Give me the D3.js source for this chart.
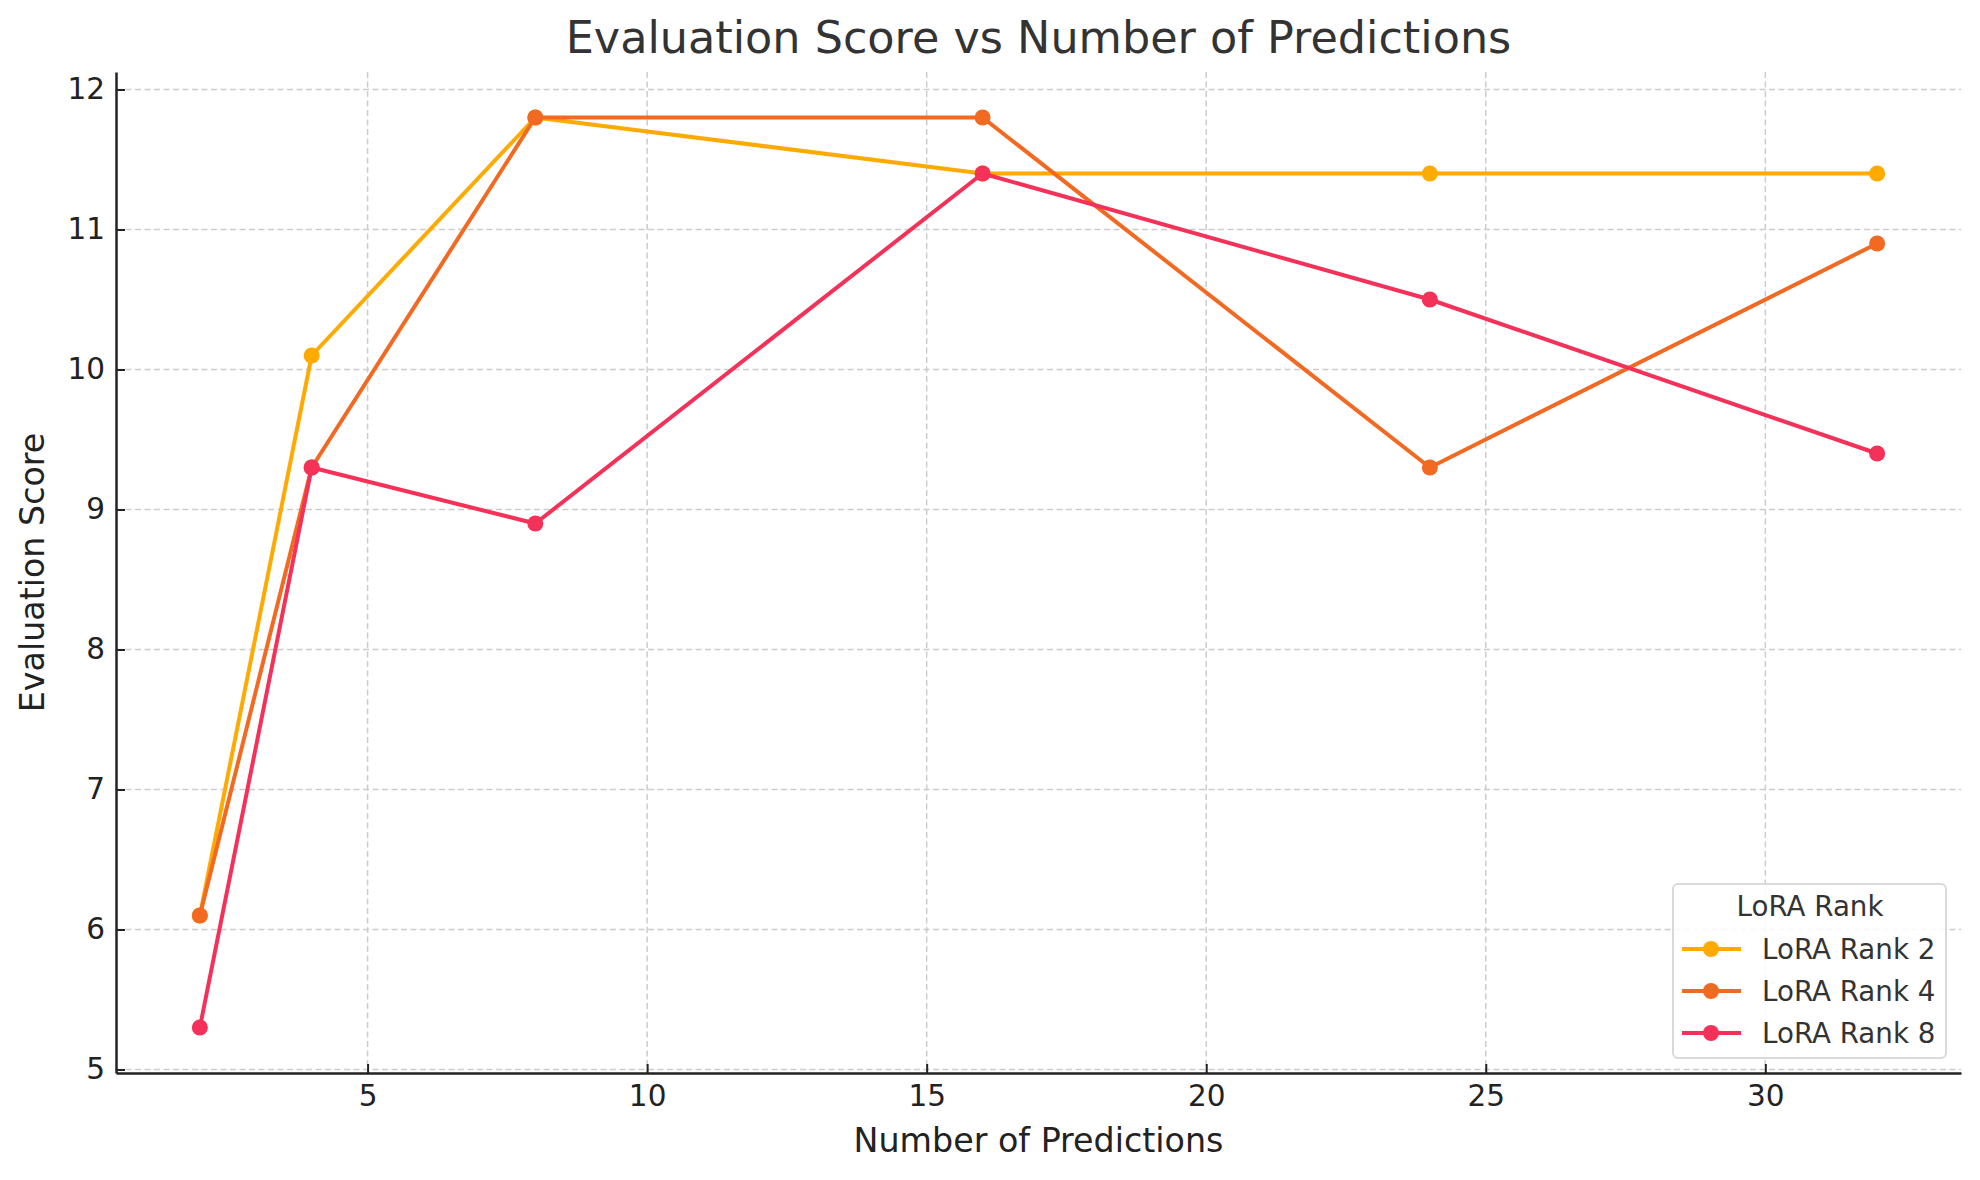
<!DOCTYPE html>
<html>
<head>
<meta charset="utf-8">
<script src="https://cdn.jsdelivr.net/npm/d3@7"></script>
<style>
  html, body { margin: 0; padding: 0; background: #fff; }
  svg { display: block; font-family: "DejaVu Sans", sans-serif; }
</style>
</head>
<body>
<svg id="chart" width="1980" height="1180"></svg>
<script>
const xValues = [2, 4, 8, 16, 24, 32];
const rank2 = [6.1, 10.1, 11.8, 11.4, 11.4, 11.4];
const rank4 = [6.1, 9.3, 11.8, 11.8, 9.3, 10.9];
const rank8 = [5.3, 9.3, 8.9, 11.4, 10.5, 9.4];
const seriesNames = ["LoRA Rank 2", "LoRA Rank 4", "LoRA Rank 8"];
const seriesColors = ["#FFAA00", "#F26A21", "#F43159"];
const xTicks = [5, 10, 15, 20, 25, 30];
const yTicks = [5, 6, 7, 8, 9, 10, 11, 12];

const series = [rank2, rank4, rank8].map((vals, i) => ({
  name: seriesNames[i], color: seriesColors[i],
  points: vals.map((v, j) => ({ x: xValues[j], y: v }))
}));

const svg = d3.select("#chart");
const L = 116, R = 1961, T = 72, B = 1073;

const x = d3.scaleLinear().domain([0.5, 33.5]).range([L, R]);
const y = d3.scaleLinear().domain([4.975, 12.125]).range([B, T]);

// grid
const grid = svg.append("g");
grid.selectAll(".gx").data(xTicks).join("line")
  .attr("x1", d => x(d)).attr("x2", d => x(d)).attr("y1", T).attr("y2", B)
  .attr("stroke", "#cccccc").attr("stroke-width", 1.5).attr("stroke-dasharray", "6,3.5");
grid.selectAll(".gy").data(yTicks).join("line")
  .attr("y1", d => y(d)).attr("y2", d => y(d)).attr("x1", L).attr("x2", R)
  .attr("stroke", "#cccccc").attr("stroke-width", 1.5).attr("stroke-dasharray", "6,3.5");

// axes
const xAxis = svg.append("g").attr("transform", `translate(0,${B})`)
  .call(d3.axisBottom(x).tickValues(xTicks).tickSizeInner(-9).tickSizeOuter(0).tickPadding(14));
const yAxis = svg.append("g").attr("transform", `translate(${L},0)`)
  .call(d3.axisLeft(y).tickValues(yTicks).tickSizeInner(-9).tickSizeOuter(0).tickPadding(12));
[xAxis, yAxis].forEach(a => {
  a.select(".domain").attr("stroke", "#222").attr("stroke-width", 2.5);
  a.selectAll(".tick line").attr("stroke", "#222").attr("stroke-width", 2);
  a.selectAll(".tick text").attr("fill", "#222").attr("font-size", 29.5)
    .attr("font-family", "DejaVu Sans");
});
xAxis.selectAll(".tick text").attr("dy", "0.71em").attr("y", 12);
yAxis.selectAll(".tick text").attr("x", -11);

// lines
const line = d3.line().x(d => x(d.x)).y(d => y(d.y));
const sg = svg.append("g");
series.forEach(s => {
  sg.append("path").datum(s.points).attr("d", line)
    .attr("fill", "none").attr("stroke", s.color).attr("stroke-width", 4)
    .attr("stroke-linejoin", "round").attr("stroke-linecap", "round");
  sg.selectAll(null).data(s.points).join("circle")
    .attr("cx", d => x(d.x)).attr("cy", d => y(d.y)).attr("r", 8)
    .attr("fill", s.color);
});

// title and labels
svg.append("text").attr("x", (L + R) / 2).attr("y", 53)
  .attr("text-anchor", "middle").attr("font-size", 44.5).attr("fill", "#333")
  .text("Evaluation Score vs Number of Predictions");
svg.append("text").attr("x", (L + R) / 2).attr("y", 1152)
  .attr("text-anchor", "middle").attr("font-size", 33.3).attr("fill", "#222")
  .text("Number of Predictions");
svg.append("text").attr("transform", `translate(44,${(T + B) / 2}) rotate(-90)`)
  .attr("text-anchor", "middle").attr("font-size", 33.3).attr("fill", "#222")
  .text("Evaluation Score");

// legend
const lg = svg.append("g");
lg.append("rect").attr("x", 1673).attr("y", 884).attr("width", 273).attr("height", 174)
  .attr("rx", 5).attr("fill", "#fff").attr("fill-opacity", 0.85)
  .attr("stroke", "#d9d9d9").attr("stroke-width", 2);
lg.append("text").attr("x", 1810).attr("y", 916).attr("text-anchor", "middle")
  .attr("font-size", 27.7).attr("fill", "#333").text("LoRA Rank");
const rowY = [949, 991, 1033];
series.forEach((s, i) => {
  lg.append("line").attr("x1", 1682).attr("x2", 1741).attr("y1", rowY[i]).attr("y2", rowY[i])
    .attr("stroke", s.color).attr("stroke-width", 4);
  lg.append("circle").attr("cx", 1711).attr("cy", rowY[i]).attr("r", 8).attr("fill", s.color);
  lg.append("text").attr("x", 1762).attr("y", rowY[i]).attr("dy", "0.36em")
    .attr("font-size", 27.7).attr("fill", "#333").text(s.name);
});
</script>
</body>
</html>
